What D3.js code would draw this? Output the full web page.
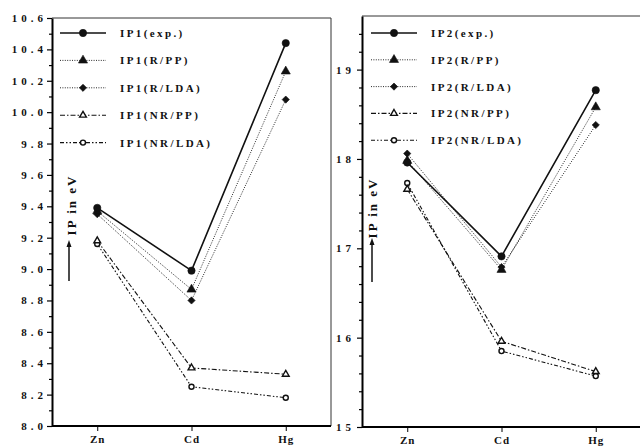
<!DOCTYPE html>
<html>
<head>
<meta charset="utf-8">
<script src="https://cdn.jsdelivr.net/npm/d3@7"></script>
<style>
  body { margin: 0; background: #fff; }
  svg { display: block; }
  text { font-family: "Liberation Serif", "DejaVu Serif", serif; font-weight: bold; fill: #111; }
</style>
</head>
<body>
<div id="chart"></div>
<script>
// elements on the x axis
var elements = ["Zn", "Cd", "Hg"];

// first ionisation potential (eV)
var ip1Exp    = [9.39, 8.99, 10.44];
var ip1RPP    = [9.37, 8.87, 10.26];
var ip1RLDA   = [9.35, 8.80, 10.08];
var ip1NRPP   = [9.18, 8.37, 8.33];
var ip1NRLDA  = [9.16, 8.25, 8.18];

// second ionisation potential (eV)
var ip2Exp    = [17.96, 16.91, 18.77];
var ip2RPP    = [17.98, 16.76, 18.58];
var ip2RLDA   = [18.06, 16.79, 18.38];
var ip2NRPP   = [17.66, 15.96, 15.62];
var ip2NRLDA  = [17.73, 15.85, 15.57];

var seriesKeys = ["exp.", "R/PP", "R/LDA", "NR/PP", "NR/LDA"];

// tick labels
var ip1Ticks = [8.0, 8.2, 8.4, 8.6, 8.8, 9.0, 9.2, 9.4, 9.6, 9.8, 10.0, 10.2, 10.4, 10.6];
var ip1Minor = [8.1, 8.3, 8.5, 8.7, 8.9, 9.1, 9.3, 9.5, 9.7, 9.9, 10.1, 10.3, 10.5];
var ip2Ticks = [15, 16, 17, 18, 19];
var ip2Minor = [15.2, 15.4, 15.6, 15.8, 16.2, 16.4, 16.6, 16.8, 17.2, 17.4, 17.6, 17.8, 18.2, 18.4, 18.6, 18.8, 19.2, 19.4];

var styles = {
  "exp.":   { width: 1.6, dash: null,                 symbol: "circle",   fill: "#111", size: 42 },
  "R/PP":   { width: 0.9, dash: "1,1.4",              symbol: "triangle", fill: "#111", size: 36 },
  "R/LDA":  { width: 0.9, dash: "1,1.4",              symbol: "diamond",  fill: "#111", size: 26 },
  "NR/PP":  { width: 1.1, dash: "5,2,1.5,2",          symbol: "triangle", fill: "#fff", size: 20 },
  "NR/LDA": { width: 1.1, dash: "4,2,1.5,2,1.5,2",    symbol: "circle",   fill: "#fff", size: 20 }
};

var width = 640, height = 446;

var svg = d3.select("#chart").append("svg")
  .attr("width", width)
  .attr("height", height);

function symbolPath(name, size) {
  if (name == "circle") return d3.symbol().type(d3.symbolCircle).size(size)();
  if (name == "triangle") return d3.symbol().type(d3.symbolTriangle).size(size)();
  return d3.symbol().type(d3.symbolSquare).size(size)();
}

function drawMarker(g, st, cx, cy) {
  g.append("path")
    .attr("d", symbolPath(st.symbol, st.size))
    .attr("transform", "translate(" + cx + "," + cy + ")" + (st.symbol == "diamond" ? " rotate(45)" : ""))
    .style("fill", st.fill)
    .style("stroke", "#111")
    .style("stroke-width", st.fill == "#fff" ? 1.4 : 0.6);
}

function drawPanel(cfg) {
  var g = svg.append("g");

  var x = d3.scalePoint().domain(elements).range([cfg.left, cfg.right]).padding(0.48);
  var y = d3.scaleLinear().domain(cfg.domain).range([cfg.bottom, cfg.top]);

  // frame (top and right thin)
  g.append("line")
    .attr("x1", cfg.left).attr("x2", cfg.right)
    .attr("y1", cfg.top).attr("y2", cfg.top)
    .style("stroke", "#333").style("stroke-width", 1);
  g.append("line")
    .attr("x1", cfg.right).attr("x2", cfg.right)
    .attr("y1", cfg.top).attr("y2", cfg.bottom)
    .style("stroke", "#333").style("stroke-width", 1);

  // Y axis
  var yAxis = g.append("g")
    .attr("transform", "translate(" + cfg.left + ",0)")
    .call(d3.axisLeft(y).tickValues(cfg.ticks).tickFormat(cfg.format).tickSize(5).tickPadding(cfg.pad).tickSizeOuter(0));
  yAxis.selectAll("text")
    .style("font-size", "11px")
    .style("letter-spacing", "4px")
    .style("font-family", "'Liberation Serif', serif")
    .style("font-weight", "bold");
  var yMinor = g.append("g")
    .attr("transform", "translate(" + cfg.left + ",0)")
    .call(d3.axisLeft(y).tickValues(cfg.minor).tickFormat("").tickSize(3).tickSizeOuter(0));
  yMinor.select(".domain").remove();
  g.selectAll(".domain").style("stroke-width", 2);
  g.selectAll(".tick line").style("stroke-width", 1.2);

  // X axis
  var xAxis = g.append("g")
    .attr("transform", "translate(0," + cfg.bottom + ")")
    .call(d3.axisBottom(x).tickSize(5).tickPadding(4).tickSizeOuter(0));
  xAxis.select(".domain")
    .attr("d", "M" + cfg.left + ",0H" + cfg.right)
    .style("stroke-width", 2);
  xAxis.selectAll("text")
    .style("font-size", "11px")
    .style("letter-spacing", "1px")
    .style("font-family", "'Liberation Serif', serif")
    .style("font-weight", "bold");

  // axis title with arrow
  g.append("text")
    .attr("transform", "translate(" + cfg.titleX + "," + cfg.titleY + ") rotate(-90)")
    .attr("text-anchor", "middle")
    .style("font-size", "13px")
    .style("letter-spacing", "2px")
    .text("IP in eV");
  g.append("line")
    .attr("x1", cfg.arrowX).attr("x2", cfg.arrowX)
    .attr("y1", cfg.arrowY0).attr("y2", cfg.arrowY1 + 6)
    .style("stroke", "#111").style("stroke-width", 1.5);
  g.append("path")
    .attr("d", "M" + (cfg.arrowX - 2.5) + "," + (cfg.arrowY1 + 7) + "L" + cfg.arrowX + "," + cfg.arrowY1 + "L" + (cfg.arrowX + 2.5) + "," + (cfg.arrowY1 + 7) + "Z")
    .style("fill", "#111");

  // series
  var line = d3.line()
    .x(function(d) { return x(d.el); })
    .y(function(d) { return y(d.v); });

  cfg.series.forEach(function(s) {
    var st = styles[s.key];
    var pts = elements.map(function(el, i) { return { el: el, v: s.values[i] }; });
    g.append("path")
      .datum(pts)
      .attr("d", line)
      .style("fill", "none")
      .style("stroke", "#111")
      .style("stroke-width", st.width)
      .style("stroke-dasharray", st.dash);
  });
  cfg.series.slice().reverse().forEach(function(s) {
    var st = styles[s.key];
    s.values.forEach(function(v, i) {
      drawMarker(g, st, x(elements[i]), y(v));
    });
  });

  // legend
  cfg.series.forEach(function(s, i) {
    var st = styles[s.key];
    var ly = cfg.legY + i * cfg.legStep;
    g.append("line")
      .attr("x1", cfg.legX).attr("x2", cfg.legX + 46)
      .attr("y1", ly).attr("y2", ly)
      .style("stroke", "#111")
      .style("stroke-width", st.width)
      .style("stroke-dasharray", st.dash);
    drawMarker(g, st, cfg.legX + 23, ly);
    g.append("text")
      .attr("x", cfg.legX + 60)
      .attr("y", ly + 4)
      .style("font-size", "11px")
      .style("letter-spacing", "2.4px")
      .text(cfg.prefix + "(" + s.key + ")");
  });
}

drawPanel({
  left: 52, right: 331, top: 18, bottom: 426,
  domain: [8.0, 10.6], ticks: ip1Ticks, minor: ip1Minor,
  format: d3.format(".1f"), pad: 0,
  titleX: 76, titleY: 205, arrowX: 69, arrowY0: 281, arrowY1: 240,
  legX: 60, legY: 33, legStep: 27.4, prefix: "IP1",
  series: [
    { key: "exp.", values: ip1Exp },
    { key: "R/PP", values: ip1RPP },
    { key: "R/LDA", values: ip1RLDA },
    { key: "NR/PP", values: ip1NRPP },
    { key: "NR/LDA", values: ip1NRLDA }
  ]
});

drawPanel({
  left: 362, right: 641, top: 16, bottom: 427,
  domain: [15, 19.6], ticks: ip2Ticks, minor: ip2Minor,
  format: d3.format("d"), pad: 2,
  titleX: 377, titleY: 208, arrowX: 372, arrowY0: 282, arrowY1: 238,
  legX: 371, legY: 33, legStep: 26.8, prefix: "IP2",
  series: [
    { key: "exp.", values: ip2Exp },
    { key: "R/PP", values: ip2RPP },
    { key: "R/LDA", values: ip2RLDA },
    { key: "NR/PP", values: ip2NRPP },
    { key: "NR/LDA", values: ip2NRLDA }
  ]
});
</script>
</body>
</html>
